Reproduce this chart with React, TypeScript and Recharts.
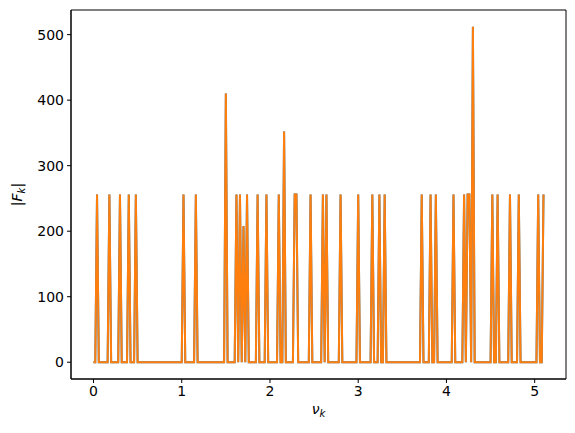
import { Line, LineChart, ReferenceArea, XAxis, YAxis } from 'recharts';

// frequency bins: nu_k = k * binWidth, k = 0..binCount-1
const binCount = 256;
const binWidth = 0.02;

// bins where |F_k| is non-zero, and their magnitudes
const spikeBins = [
  2, 9, 15, 20, 24, 51, 58, 75, 81, 83, 85, 87, 93, 98, 105, 108, 114, 115, 123, 130,
  132, 140, 150, 158, 162, 165, 186, 191, 194, 204, 210, 212, 213, 215, 226, 229, 236,
  241, 252, 255
];
const spikeValues = [
  256, 256, 256, 256, 256, 256, 256, 410, 256, 256, 208, 256, 256, 256, 256, 352, 256, 256,
  256, 256, 256, 256, 256, 256, 256, 256, 256, 256, 256, 256, 256, 256, 256, 512, 256, 256,
  256, 256, 256, 256
];

const xTicks = [0, 1, 2, 3, 4, 5];
const yTicks = [0, 100, 200, 300, 400, 500];

const X_DOMAIN: [number, number] = [-0.255, 5.355];
const Y_DOMAIN: [number, number] = [-25.6, 537.6];

const magnitudes: number[] = new Array(binCount).fill(0);
spikeBins.forEach((k, i) => {
  magnitudes[k] = spikeValues[i];
});

const data = magnitudes.map((v, k) => ({
  nu: +(k * binWidth).toFixed(2),
  fft: v,
  dft: v
}));

const FONT = 'DejaVu Sans, sans-serif';

const XLabel = ({ viewBox }: any) => {
  const cx = viewBox.x + viewBox.width / 2;
  return (
    <text x={cx} y={414} textAnchor="middle" fontFamily={FONT} fontSize={14} fill="#000">
      <tspan fontStyle="italic">ν</tspan>
      <tspan fontStyle="italic" fontSize={10} dy={3}>k</tspan>
    </text>
  );
};

const YLabel = ({ viewBox }: any) => {
  const cy = viewBox.y + viewBox.height / 2;
  return (
    <text
      x={22}
      y={cy}
      transform={`rotate(-90, 22, ${cy})`}
      textAnchor="middle"
      fontFamily={FONT}
      fontSize={14}
      fill="#000"
    >
      <tspan>|</tspan>
      <tspan fontStyle="italic">F</tspan>
      <tspan fontStyle="italic" fontSize={10} dy={3}>k</tspan>
      <tspan dy={-3}>|</tspan>
    </text>
  );
};

export default function App() {
  return (
    <div style={{ position: 'absolute', left: 0, top: 0, background: '#fff' }}>
      <LineChart
        width={575}
        height={433}
        data={data}
        margin={{ top: 10, right: 9, bottom: 0, left: 0 }}
      >
        <XAxis
          dataKey="nu"
          type="number"
          domain={X_DOMAIN}
          ticks={xTicks}
          allowDataOverflow
          height={54}
          tickSize={4}
          tickMargin={3}
          stroke="#000"
          tick={{ fill: '#000', fontSize: 14, fontFamily: FONT }}
          label={<XLabel />}
        />
        <YAxis
          type="number"
          domain={Y_DOMAIN}
          ticks={yTicks}
          allowDataOverflow
          width={71}
          tickSize={4}
          tickMargin={3}
          stroke="#000"
          tick={{ fill: '#000', fontSize: 14, fontFamily: FONT }}
          label={<YLabel />}
        />
        <Line
          type="linear"
          dataKey="fft"
          stroke="#1f77b4"
          strokeWidth={2}
          dot={false}
          isAnimationActive={false}
        />
        <Line
          type="linear"
          dataKey="dft"
          stroke="#ff7f0e"
          strokeWidth={2}
          dot={false}
          isAnimationActive={false}
        />
        {/* full box frame like matplotlib spines */}
        <ReferenceArea
          x1={X_DOMAIN[0]}
          x2={X_DOMAIN[1]}
          y1={Y_DOMAIN[0]}
          y2={Y_DOMAIN[1]}
          fill="none"
          fillOpacity={0}
          stroke="#000"
          strokeWidth={1}
          strokeOpacity={1}
          ifOverflow="visible"
        />
      </LineChart>
    </div>
  );
}
